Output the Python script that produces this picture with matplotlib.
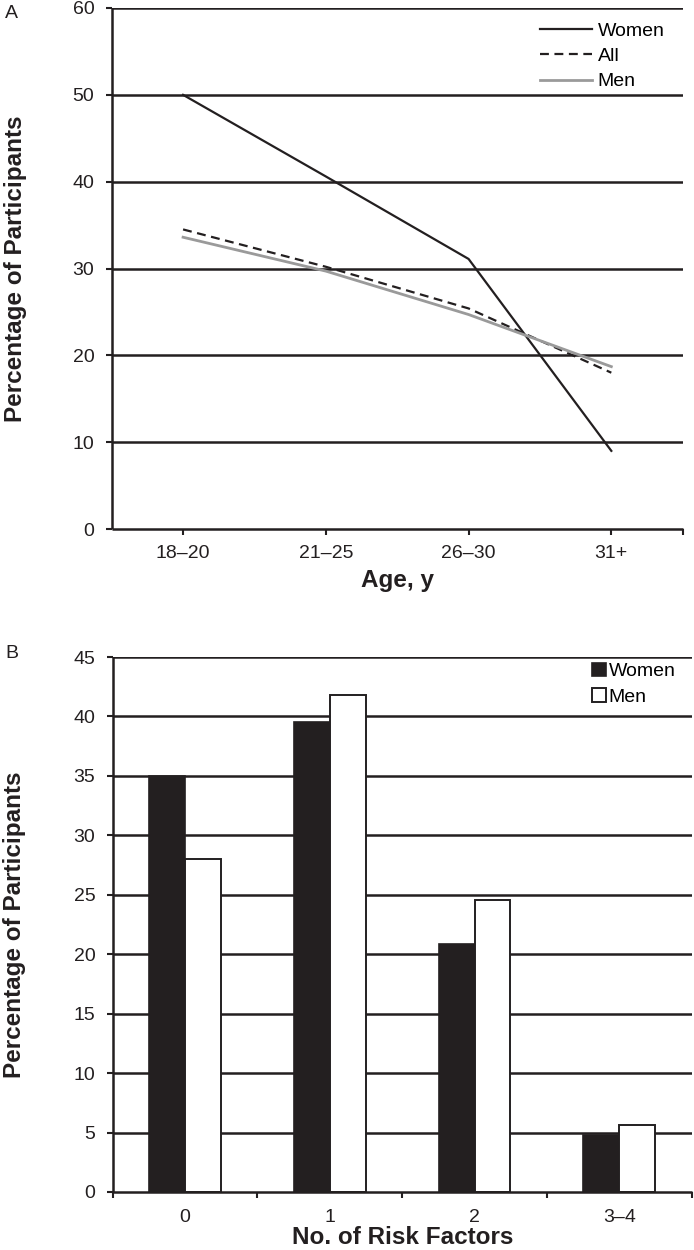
import numpy as np
import matplotlib
matplotlib.use("Agg")
import matplotlib.pyplot as plt

plt.rcParams['font.family'] = ['Liberation Sans', 'DejaVu Sans']

# panel A: share of participants by age group
age_groups = ['18\u201320', '21\u201325', '26\u201330', '31+']
women_age = [50.0, 40.6, 31.1, 9.0]
all_age = [34.5, 30.2, 25.4, 18.0]
men_age = [33.6, 29.7, 24.7, 18.7]

# panel B: share of participants by number of risk factors
risk_groups = ['0', '1', '2', '3\u20134']
women_risk = [35.0, 39.5, 20.9, 4.8]
men_risk = [28.0, 41.8, 24.6, 5.6]

INK = '#231f20'
GRID_W = 1.8


def style_axes(ax, ymax, ystep):
    ax.set_ylim(0, ymax)
    ax.set_xlim(-0.5, 3.5)
    ax.set_yticks(np.arange(0, ymax + ystep, ystep))
    for y in np.arange(ystep, ymax + ystep, ystep):
        ax.axhline(y, color=INK, lw=GRID_W, zorder=0.5)
    for side in ['top', 'right']:
        ax.spines[side].set_visible(False)
    for side in ['left', 'bottom']:
        ax.spines[side].set_color(INK)
        ax.spines[side].set_linewidth(GRID_W)
        ax.spines[side].set_capstyle('butt')
    ax.tick_params(axis='y', length=4.5, width=1.5, color=INK, pad=8,
                   labelsize=14, labelcolor=INK)
    ax.tick_params(axis='x', length=4.5, width=1.5, color=INK, pad=7,
                   labelsize=14, labelcolor=INK)
    ax.set_ylabel('Percentage of Participants', fontsize=17.5,
                  fontweight='bold', color=INK)


fig = plt.figure(figsize=(6.94, 12.5), dpi=100)

# ---- panel A ----
axA = fig.add_axes([111.7 / 694, 1 - 529 / 1250, 571 / 694, 521 / 1250])
style_axes(axA, 60, 10)
x = np.arange(len(age_groups))
axA.plot(x, women_age, color=INK, lw=1.6, label='Women', zorder=3)
axA.plot(x, all_age, color=INK, lw=1.6, ls=(0, (4, 2.5)), label='All', zorder=3)
axA.plot(x, men_age, color='#9a9a9a', lw=2.0, label='Men', zorder=3)
axA.set_xticks(list(x) + [3.5])
axA.set_xticklabels(age_groups + [''])
axA.set_xlabel('Age, y', fontsize=17.5, fontweight='bold', color=INK, labelpad=5)
axA.yaxis.set_label_coords(-0.148, 0.5)
axA.legend(loc='upper left', bbox_to_anchor=(0.750, 0.973), frameon=False,
           fontsize=14, handlelength=2.67, handletextpad=0.3,
           labelspacing=0.4, borderaxespad=0, borderpad=0)
fig.text(11 / 694, 1 - 14 / 1250, 'A', fontsize=14, color=INK,
         ha='center', va='center')

# ---- panel B ----
axB = fig.add_axes([112.7 / 694, 1 - 1192 / 1250, 579 / 694, 535 / 1250])
style_axes(axB, 45, 5)
xb = np.arange(len(risk_groups))
w = 0.248
axB.bar(xb - w / 2, women_risk, width=w, color=INK, edgecolor=INK,
        lw=1.2, label='Women', zorder=2)
axB.bar(xb + w / 2, men_risk, width=w, color='white', edgecolor=INK,
        lw=1.4, label='Men', zorder=2)
axB.set_xticks(np.arange(-0.5, 4.0, 1.0))
axB.set_xticklabels([])
axB.set_xticks(xb, minor=True)
axB.set_xticklabels(risk_groups, minor=True)
axB.tick_params(axis='x', which='minor', length=0, pad=12, labelsize=14,
                labelcolor=INK)
axB.set_xlabel('No. of Risk Factors', fontsize=17.5, fontweight='bold',
               color=INK, labelpad=0)
axB.yaxis.set_label_coords(-0.15, 0.5)
axB.legend(loc='upper left', bbox_to_anchor=(0.828, 0.989), frameon=False,
           fontsize=14, handlelength=0.7, handleheight=0.7,
           handletextpad=0.15, labelspacing=0.4, borderaxespad=0,
           borderpad=0)
fig.text(12 / 694, 1 - 654 / 1250, 'B', fontsize=14, color=INK,
         ha='center', va='center')

fig.savefig('out.png', dpi=100)
